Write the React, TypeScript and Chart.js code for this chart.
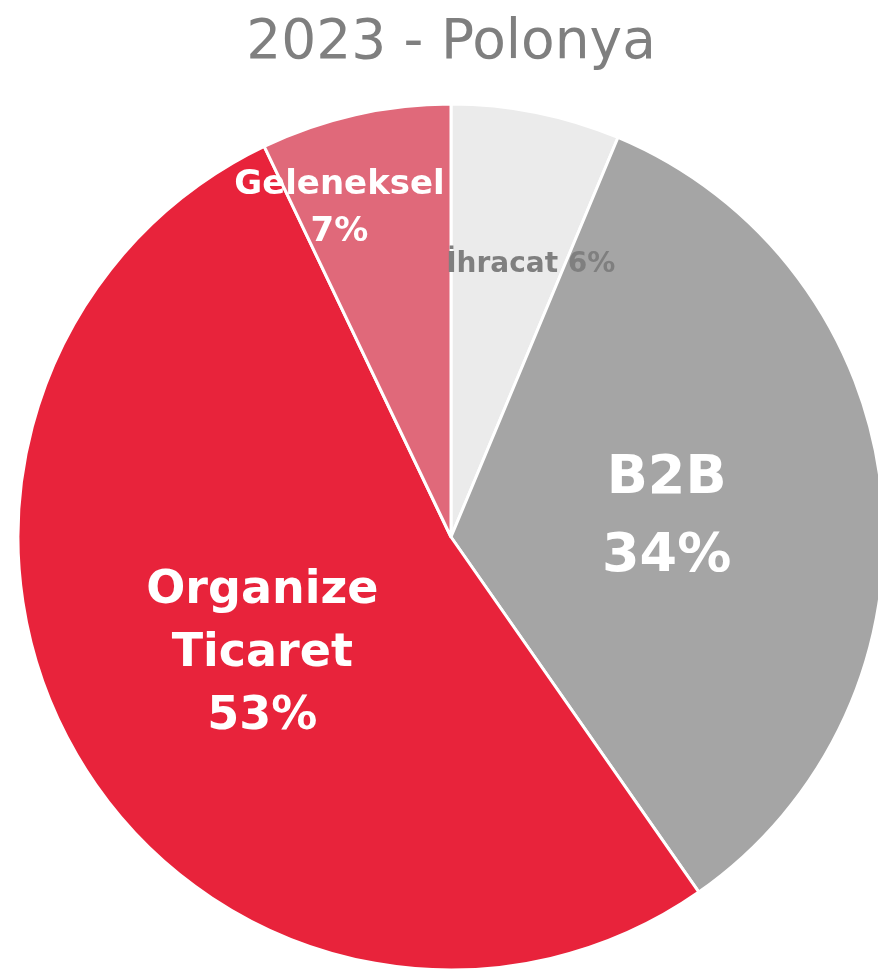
import React, { useEffect, useRef } from "react";
import { Chart, registerables } from "chart.js";

Chart.register(...registerables);

const TITLE = "2023 - Polonya";
const categories = ["İhracat", "B2B", "Organize Ticaret", "Geleneksel"];
const values = [6.3, 34.0, 52.6, 7.1];
const colors = ["#ebebeb", "#a5a5a5", "#e8233b", "#e0697a"];
// label layout (styling only)
const labelLines = [["İhracat"], ["B2B"], ["Organize", "Ticaret"], ["Geleneksel"]];
const labelInline = [true, false, false, false];
const labelRadial = [0.655, 0.5, 0.513, 0.8];
const labelAngleShift = [5, 1, -1.6, -6];
const labelFontSize = [28, 54, 46, 34];
const labelLineHeight = [34, 78, 63, 47];
const labelColors = ["#7f7f7f", "#ffffff", "#ffffff", "#ffffff"];

const FONT = "'DejaVu Sans', sans-serif";

const labelPlugin = {
  id: "sliceLabels",
  afterDatasetsDraw(chart: any) {
    const ctx = chart.ctx;
    const meta = chart.getDatasetMeta(0);
    meta.data.forEach((arc: any, i: number) => {
      const { x, y, startAngle, endAngle, outerRadius } = arc.getProps(
        ["x", "y", "startAngle", "endAngle", "outerRadius"],
        true
      );
      const mid = (startAngle + endAngle) / 2 + (labelAngleShift[i] * Math.PI) / 180;
      const r = outerRadius * labelRadial[i];
      const cx = x + Math.cos(mid) * r;
      const cy = y + Math.sin(mid) * r;
      const pct = Math.round(values[i]) + "%";
      const lines = labelInline[i]
        ? [labelLines[i].join(" ") + " " + pct]
        : [...labelLines[i], pct];
      ctx.save();
      ctx.font = `bold ${labelFontSize[i]}px ${FONT}`;
      ctx.fillStyle = labelColors[i];
      ctx.textAlign = "center";
      ctx.textBaseline = "middle";
      const lh = labelLineHeight[i];
      const y0 = cy - ((lines.length - 1) * lh) / 2;
      lines.forEach((t, k) => ctx.fillText(t, cx, y0 + k * lh));
      ctx.restore();
    });
  },
};

export default function App() {
  const ref = useRef<HTMLCanvasElement>(null);
  useEffect(() => {
    if (!ref.current) return;
    const chart = new Chart(ref.current, {
      type: "pie",
      data: {
        labels: categories,
        datasets: [
          {
            data: values,
            backgroundColor: colors,
            borderColor: "#ffffff",
            borderWidth: 3,
            radius: 433,
            clip: false,
          } as any,
        ],
      },
      options: {
        responsive: false,
        animation: false,
        layout: { padding: { left: 24, right: 0, top: 0, bottom: 5 } },
        plugins: {
          legend: { display: false },
          tooltip: { enabled: false },
          title: {
            display: true,
            text: TITLE,
            color: "#7f7f7f",
            font: { family: FONT, size: 55, weight: "normal" as any },
            padding: { top: 11, bottom: 30 },
          },
        },
      },
      plugins: [labelPlugin],
    });
    return () => chart.destroy();
  }, []);
  return (
    <div
      style={{
        position: "absolute",
        left: 0,
        top: 0,
        width: 878,
        height: 972,
        overflow: "hidden",
        background: "#ffffff",
      }}
    >
      <canvas ref={ref} width={878} height={972} />
    </div>
  );
}
